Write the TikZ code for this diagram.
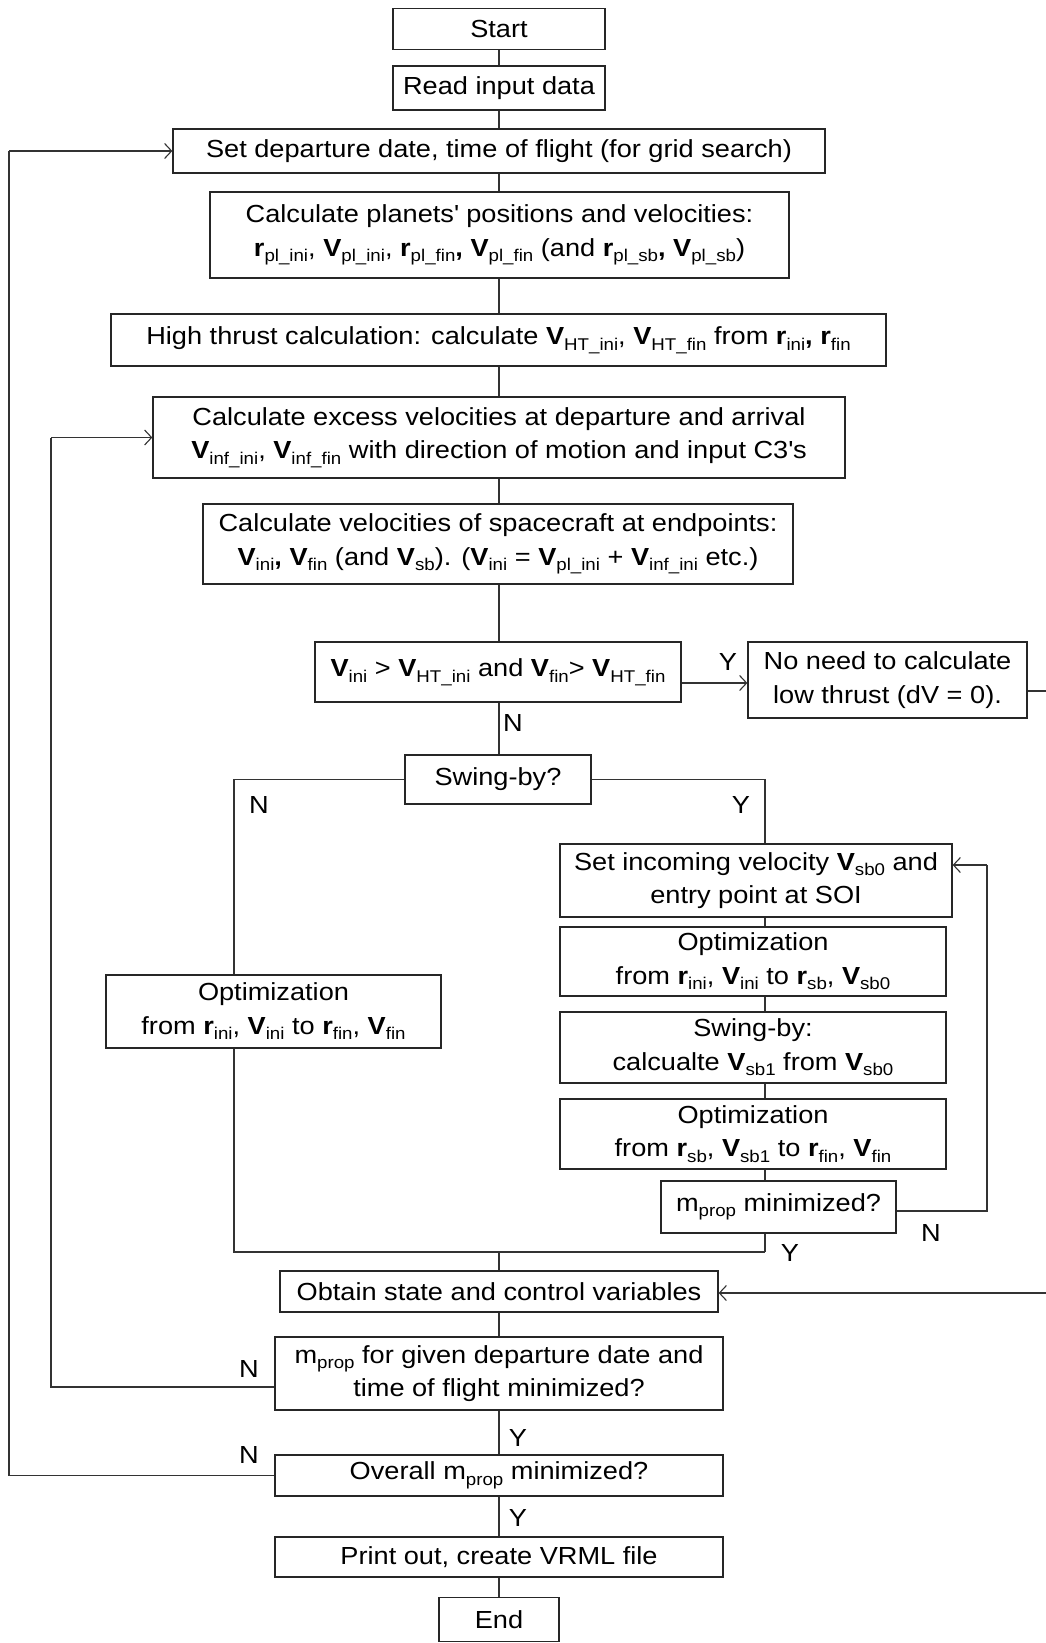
\documentclass[tikz,border=0pt]{standalone}
\usepackage{fontspec}
\setmainfont{Liberation Sans}[FakeStretch=1.1]
\usetikzlibrary{arrows.meta}
\newcommand\myV{\textbf{V}}
\newcommand\myr{\textbf{r}}
\newcommand\sbx[1]{\raisebox{-5.5pt}{\fontsize{17}{17}\selectfont #1}}
\newcommand\bc{\textbf{,}}
\begin{document}
\begin{tikzpicture}[x=1pt,y=-1pt,
  every node/.style={font=\fontsize{24.7}{33.5}\selectfont},
  box/.style={draw=black!85, line width=1.3pt, align=center, inner sep=0pt},
  ln/.style={draw=black!80, line width=1.3pt},
  arr/.style={ln, -{Straight Barb[length=7pt,width=15pt,line width=1.1pt]}},
  lab/.style={inner sep=0pt}]
\useasboundingbox (0,0) rectangle (1046,1643);

\node[box, minimum width=212pt, minimum height=41pt] (start) at (499,29) {Start};
\node[box, minimum width=212pt, minimum height=44pt] (read) at (499,88) {Read input data};
\node[box, minimum width=652pt, minimum height=44pt] (setdep) at (499,151) {Set departure date, time of flight (for grid search)};
\node[box, minimum width=579pt, minimum height=86pt] (calcpl) at (499.5,235) {Calculate planets\textquotesingle{} positions and velocities:\\
  \myr\sbx{pl\_ini}, \myV\sbx{pl\_ini}, \myr\sbx{pl\_fin}\bc{} \myV\sbx{pl\_fin} (and \myr\sbx{pl\_sb}\bc{} \myV\sbx{pl\_sb})};
\node[box, minimum width=775pt, minimum height=52pt] (hthrust) at (498.5,340) {High thrust calculation: calculate \myV\sbx{HT\_ini}, \myV\sbx{HT\_fin} from \myr\sbx{ini}\bc{} \myr\sbx{fin}};
\node[box, minimum width=692pt, minimum height=81pt] (excess) at (499,437.5) {Calculate excess velocities at departure and arrival\\
  \myV\sbx{inf\_ini}, \myV\sbx{inf\_fin} with direction of motion and input C3\textquotesingle s};
\node[box, minimum width=590pt, minimum height=80pt] (calcvel) at (498,544) {Calculate velocities of spacecraft at endpoints:\\
  \myV\sbx{ini}\bc{} \myV\sbx{fin} (and \myV\sbx{sb}). (\myV\sbx{ini} = \myV\sbx{pl\_ini} + \myV\sbx{inf\_ini} etc.)};
\node[box, minimum width=366pt, minimum height=60pt] (cond) at (498,672) {\myV\sbx{ini} > \myV\sbx{HT\_ini} and \myV\sbx{fin}> \myV\sbx{HT\_fin}};
\node[box, minimum width=279pt, minimum height=76pt] (noneed) at (887.5,680) {No need to calculate\\ low thrust (dV = 0).};
\node[box, minimum width=186pt, minimum height=49pt] (swing) at (498,779.5) {Swing-by?};
\node[box, minimum width=392pt, minimum height=73pt] (setinc) at (756,880.5) {Set incoming velocity \myV\sbx{sb0} and\\ entry point at SOI};
\node[box, minimum width=386pt, minimum height=69pt] (opta) at (753,961.5) {Optimization\\ from \myr\sbx{ini}, \myV\sbx{ini} to \myr\sbx{sb}, \myV\sbx{sb0}};
\node[box, minimum width=386pt, minimum height=71pt] (sbcalc) at (753,1047.5) {Swing-by:\\ calcualte \myV\sbx{sb1} from \myV\sbx{sb0}};
\node[box, minimum width=386pt, minimum height=70pt] (optb) at (753,1134) {Optimization\\ from \myr\sbx{sb}, \myV\sbx{sb1} to \myr\sbx{fin}, \myV\sbx{fin}};
\node[box, minimum width=235pt, minimum height=52pt] (mprop) at (778.5,1207) {m\sbx{prop} minimized?};
\node[box, minimum width=335pt, minimum height=73pt] (optl) at (273.5,1011.5) {Optimization\\ from \myr\sbx{ini}, \myV\sbx{ini} to \myr\sbx{fin}, \myV\sbx{fin}};
\node[box, minimum width=438pt, minimum height=41pt] (obtain) at (499,1291.5) {Obtain state and control variables};
\node[box, minimum width=448pt, minimum height=73pt] (mgiven) at (499,1373.5) {m\sbx{prop} for given departure date and\\ time of flight minimized?};
\node[box, minimum width=448pt, minimum height=41pt] (overall) at (499,1475.5) {Overall m\sbx{prop} minimized?};
\node[box, minimum width=448pt, minimum height=40pt] (print) at (499,1557) {Print out, create VRML file};
\node[box, minimum width=120pt, minimum height=44pt] (end) at (499,1619.5) {End};

\coordinate (jl) at (234,1252);
\coordinate (jr) at (765,1252);
\coordinate (jm) at (499,1252);

% main vertical flow
\draw[ln] (start) -- (read);
\draw[ln] (read) -- (setdep);
\draw[ln] (499,0 |- setdep.south) -- (499,0 |- calcpl.north);
\draw[ln] (499,0 |- calcpl.south) -- (499,0 |- hthrust.north);
\draw[ln] (499,0 |- hthrust.south) -- (499,0 |- excess.north);
\draw[ln] (499,0 |- excess.south) -- (499,0 |- calcvel.north);
\draw[ln] (499,0 |- calcvel.south) -- (499,0 |- cond.north);
\draw[ln] (499,0 |- cond.south) -- (499,0 |- swing.north);
\draw[arr] (cond.east |- 0,683) -- (noneed.west |- 0,683);
\draw[ln] (noneed.east |- 0,691) -- (1070,691) -- (1070,1293);
\draw[arr] (1070,1293) -- (obtain.east |- 0,1293);

% swing-by branches
\draw[ln] (swing.west) -- (234,779.5) -- (234,0 |- optl.north);
\draw[ln] (234,0 |- optl.south) -- (jl) -- (jr);
\draw[ln] (swing.east) -- (765,779.5) -- (765,0 |- setinc.north);
\draw[ln] (765,0 |- setinc.south) -- (765,0 |- opta.north);
\draw[ln] (765,0 |- opta.south) -- (765,0 |- sbcalc.north);
\draw[ln] (765,0 |- sbcalc.south) -- (765,0 |- optb.north);
\draw[ln] (765,0 |- optb.south) -- (765,0 |- mprop.north);
\draw[ln] (765,0 |- mprop.south) -- (jr);
\draw[ln] (mprop.east |- 0,1211) -- (987,1211) -- (987,865);
\draw[arr] (987,865) -- (setinc.east |- 0,865);
\draw[ln] (jm) -- (obtain.north -| jm);

% lower flow
\draw[ln] (obtain) -- (mgiven);
\draw[ln] (mgiven) -- (overall);
\draw[ln] (overall) -- (print);
\draw[ln] (print) -- (end);
\draw[ln] (mgiven.west |- 0,1387) -- (51,1387) -- (51,437.5);
\draw[arr] (51,437.5) -- (excess.west);
\draw[ln] (overall.west) -- (9,1475.5) -- (9,151);
\draw[arr] (9,151) -- (setdep.west);

% labels
\node[lab] at (728,662) {Y};
\node[lab] at (513,723) {N};
\node[lab] at (259,805) {N};
\node[lab] at (741,805) {Y};
\node[lab] at (931,1233) {N};
\node[lab] at (790,1253) {Y};
\node[lab] at (249,1369) {N};
\node[lab] at (518,1438) {Y};
\node[lab] at (249,1455) {N};
\node[lab] at (518,1518) {Y};
\end{tikzpicture}
\end{document}
